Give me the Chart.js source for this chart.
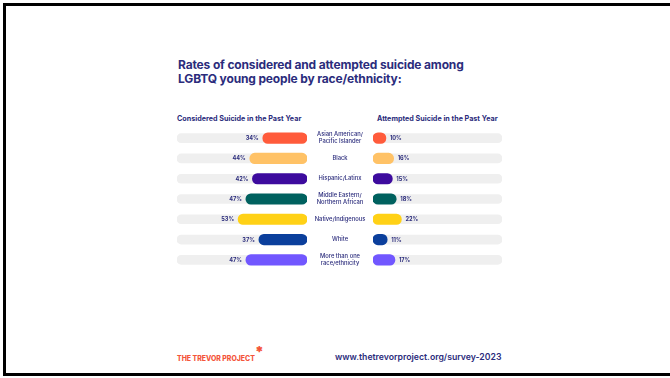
<!DOCTYPE html>
<html>
<head>
<meta charset="utf-8">
<script src="https://cdn.jsdelivr.net/npm/chart.js@4.4.0/dist/chart.umd.min.js"></script>
<style>
  html, body { margin: 0; padding: 0; background: #ffffff; overflow: hidden; }
  body { width: 670px; height: 378px; position: relative; font-family: Inter, "Noto Sans", sans-serif; }
  .frame { position: absolute; left: 3px; top: 3px; width: 664px; height: 367px;
           border-left: 3px solid #000; border-top: 3px solid #000; border-bottom: 3px solid #000; }
  .title { position: absolute; left: 178px; top: 58px; color: #2b2c7c; font-weight: 700;
           font-size: 12px; line-height: 13.5px; letter-spacing: -0.15px; white-space: nowrap; }
  .head { position: absolute; top: 114px; color: #2b2c7c; font-weight: 700; font-size: 7.2px; white-space: nowrap; }
  .brand { position: absolute; left: 177px; top: 354px; color: #f4553a; font-weight: 800; font-size: 6.9px; white-space: nowrap; }
  .star { position: absolute; left: 256px; top: 346px; color: #f4553a; font-weight: 700; font-size: 7.5px; line-height: 8px; }
  .url { position: absolute; left: 335px; top: 352px; color: #2b2c7c; font-weight: 600; font-size: 8.7px; white-space: nowrap; }
  canvas { position: absolute; }
</style>
</head>
<body>
<div class="frame"></div>
<div class="title">Rates of considered and attempted suicide among<br>LGBTQ young people by race/ethnicity:</div>
<div class="head" style="left:177px">Considered Suicide in the Past Year</div>
<div class="head" style="left:377px">Attempted Suicide in the Past Year</div>
<canvas id="left" width="140" height="142" style="left:170px; top:128px"></canvas>
<canvas id="right" width="200" height="142" style="left:307px; top:128px"></canvas>
<div class="brand">THE TREVOR PROJECT</div>
<div class="star">✱</div>
<div class="url">www.thetrevorproject.org/survey-2023</div>
<script>
const categories = [
  ["Asian American/", "Pacific Islander"],
  "Black",
  "Hispanic/Latinx",
  ["Middle Eastern/", "Northern African"],
  "Native/Indigenous",
  "White",
  ["More than one", "race/ethnicity"]
];
const considered = [34, 44, 42, 47, 53, 37, 47];
const attempted = [10, 16, 15, 18, 22, 11, 17];
const fullScale = [100, 100, 100, 100, 100, 100, 100];
const barColors = ["#ff5b3b", "#ffc266", "#3d0b9e", "#00615f", "#ffd116", "#0b3f9c", "#7157ff"];

const navy = "#2b2c7c";

// percentage text next to the end of each coloured bar
const valueLabels = {
  id: 'valueLabels',
  afterDatasetsDraw(chart, args, opts) {
    const ctx = chart.ctx;
    const meta = chart.getDatasetMeta(1);
    const values = chart.data.datasets[1].data;
    ctx.save();
    ctx.font = "700 5.6px Inter, 'Noto Sans', sans-serif";
    ctx.fillStyle = navy;
    ctx.textBaseline = 'middle';
    meta.data.forEach((bar, i) => {
      const label = values[i] + '%';
      if (opts.side === 'left') {
        ctx.textAlign = 'right';
        ctx.fillText(label, bar.x - 4, bar.y + 0.3);
      } else {
        ctx.textAlign = 'left';
        ctx.fillText(label, bar.x + 4, bar.y + 0.3);
      }
    });
    ctx.restore();
  }
};

// group names between the two bar columns
const groupLabels = {
  id: 'groupLabels',
  afterDraw(chart) {
    const ctx = chart.ctx;
    const y = chart.scales.y;
    const cx = chart.chartArea.left - 33;
    ctx.save();
    ctx.font = "500 5.8px Inter, 'Noto Sans', sans-serif";
    ctx.fillStyle = navy;
    ctx.textAlign = 'center';
    ctx.textBaseline = 'middle';
    chart.data.labels.forEach((lab, i) => {
      const py = y.getPixelForValue(i);
      const lines = Array.isArray(lab) ? lab : [lab];
      const lh = 7.2;
      lines.forEach((ln, k) => {
        ctx.fillText(ln, cx, py + (k - (lines.length - 1) / 2) * lh);
      });
    });
    ctx.restore();
  }
};

function makeChart(id, values, side) {
  return new Chart(document.getElementById(id), {
    type: 'bar',
    data: {
      labels: categories,
      datasets: [
        {
          data: fullScale,
          backgroundColor: '#efefef',
          barThickness: 9,
          borderRadius: 5,
          borderSkipped: false,
          grouped: false,
          order: 2
        },
        {
          data: values,
          backgroundColor: barColors,
          barThickness: 10.5,
          borderRadius: 6,
          borderSkipped: false,
          grouped: false,
          order: 1
        }
      ]
    },
    options: {
      indexAxis: 'y',
      responsive: false,
      animation: false,
      devicePixelRatio: 1,
      layout: { padding: side === 'left' ? { left: 7, right: 3, top: 0, bottom: 0 } : { left: 66, right: 5, top: 0, bottom: 0 } },
      scales: {
        x: { display: false, min: 0, max: 100, reverse: side === 'left' },
        y: { display: false }
      },
      plugins: {
        legend: { display: false },
        tooltip: { enabled: false },
        valueLabels: { side: side }
      }
    },
    plugins: side === 'left' ? [valueLabels] : [valueLabels, groupLabels]
  });
}

makeChart('left', considered, 'left');
makeChart('right', attempted, 'right');
</script>
</body>
</html>
